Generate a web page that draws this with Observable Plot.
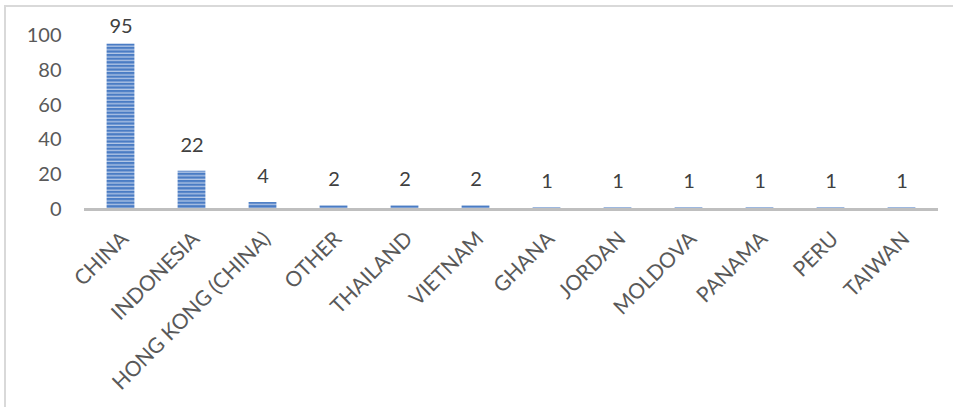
<!DOCTYPE html>
<html>
<head>
<meta charset="utf-8">
<script src="https://cdn.jsdelivr.net/npm/d3@7"></script>
<script src="https://cdn.jsdelivr.net/npm/@observablehq/plot@0.6"></script>
<style>
  html, body { margin: 0; padding: 0; background: #fff; }
  #wrap { position: relative; width: 953px; height: 407px; overflow: hidden; }
  #frame { position: absolute; left: 4px; top: 5px; width: 960px; height: 420px;
           border-left: 2px solid #d9d9d9; border-top: 2px solid #d9d9d9; box-sizing: border-box; }
  #chart { position: absolute; left: 0; top: 0; }
</style>
</head>
<body>
<div id="wrap"><div id="frame"></div><div id="chart"></div></div>
<script>
const countries = ["CHINA", "INDONESIA", "HONG KONG (CHINA)", "OTHER", "THAILAND", "VIETNAM", "GHANA", "JORDAN", "MOLDOVA", "PANAMA", "PERU", "TAIWAN"];
const counts = [95, 22, 4, 2, 2, 2, 1, 1, 1, 1, 1, 1];
const yTicks = [0, 20, 40, 60, 80, 100];

const data = countries.map((c, i) => ({country: c, count: counts[i]}));
const font = "Lato, 'Open Sans', sans-serif";
const yMax = d3.max(yTicks);

const chart = Plot.plot({
  width: 953,
  height: 407,
  marginLeft: 84,
  marginRight: 15,
  marginTop: 35,
  marginBottom: 198,
  style: {fontFamily: font, background: "transparent", overflow: "visible"},
  x: {domain: countries, padding: 0, label: null},
  y: {domain: [0, yMax], label: null},
  marks: [
    Plot.barY(data, {x: "country", y: "count", fill: "url(#stripes)", insetLeft: 21.6, insetRight: 21.6}),
    Plot.ruleY([0], {stroke: "#bfbfbf", strokeWidth: 3}),
    // labels near the top of the plot area are pushed down to stay inside it
    Plot.text(data, {filter: d => d.count <= yMax * 0.9, x: "country", y: "count", text: d => String(d.count), dy: -26, fontSize: 20, fill: "#404040"}),
    Plot.text(data, {filter: d => d.count > yMax * 0.9, x: "country", y: "count", text: d => String(d.count), dy: -18, fontSize: 20, fill: "#404040"}),
    Plot.axisY({ticks: yTicks, tickSize: 0, tickPadding: 23, fontSize: 20, fill: "#595959", label: null}),
    Plot.axisX({tickSize: 0, tickPadding: 26, dx: 4, tickRotate: -45, fontSize: 21, fill: "#595959", label: null})
  ]
});

const ns = "http://www.w3.org/2000/svg";
const defs = document.createElementNS(ns, "defs");
defs.innerHTML = `<pattern id="stripes" patternUnits="userSpaceOnUse" width="6" height="3.6">
  <rect width="6" height="3.6" fill="#4a7cc4"></rect>
  <rect y="2.3" width="6" height="1.3" fill="#b3c7e6"></rect>
</pattern>`;
chart.insertBefore(defs, chart.firstChild);
document.getElementById("chart").appendChild(chart);
</script>
</body>
</html>
